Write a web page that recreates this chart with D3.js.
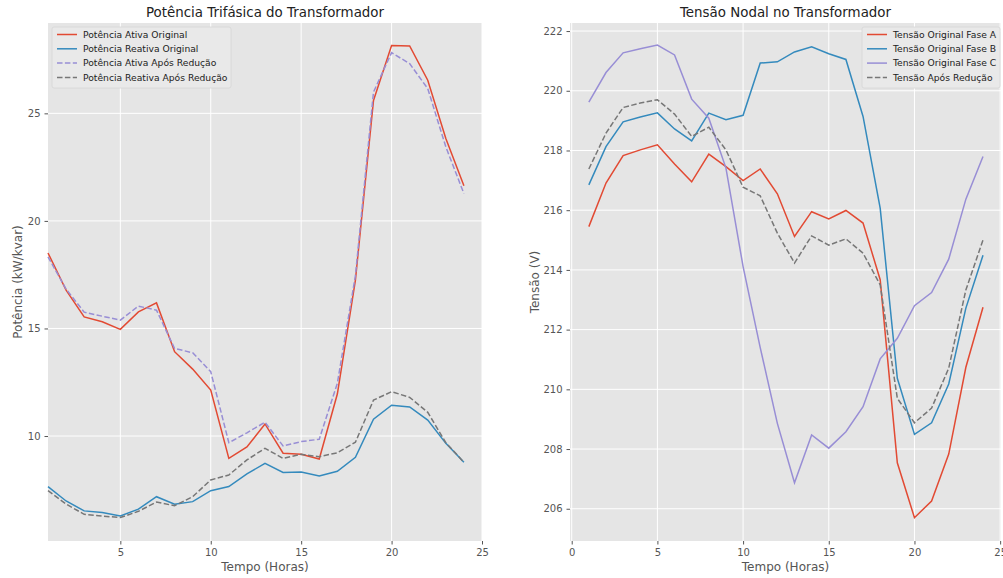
<!DOCTYPE html>
<html>
<head>
<meta charset="utf-8">
<script src="https://cdn.jsdelivr.net/npm/d3@7"></script>
<style>
  body { margin: 0; background: #fff; }
  text { font-family: "DejaVu Sans", sans-serif; }
</style>
</head>
<body>
<div id="chart"></div>
<script>
// horas do dia
var horas = d3.range(1, 25);

// potencia (kW / kvar)
var ativaOriginal = [18.51, 16.78, 15.54, 15.31, 14.96, 15.77, 16.19, 13.92, 13.11, 12.14, 8.96, 9.49,
  10.56, 9.20, 9.15, 8.93, 11.95, 17.25, 25.60, 28.15, 28.13, 26.54, 23.83, 21.63];
var reativaOriginal = [7.65, 6.98, 6.52, 6.44, 6.28, 6.60, 7.18, 6.83, 6.95, 7.46, 7.65, 8.24,
  8.73, 8.31, 8.33, 8.14, 8.36, 9.01, 10.78, 11.43, 11.35, 10.74, 9.66, 8.78];
var ativaReducao = [18.33, 16.83, 15.76, 15.57, 15.39, 16.04, 15.85, 14.07, 13.87, 12.99, 9.69, 10.15,
  10.64, 9.54, 9.74, 9.85, 12.45, 17.45, 25.99, 27.82, 27.31, 26.15, 23.44, 21.27];
var reativaReducao = [7.46, 6.84, 6.36, 6.28, 6.21, 6.50, 6.93, 6.76, 7.18, 7.96, 8.19, 8.89,
  9.43, 8.96, 9.15, 9.04, 9.22, 9.71, 11.67, 12.06, 11.80, 11.10, 9.69, 8.78];

// tensao (V)
var faseA = [215.45, 216.91, 217.83, 218.02, 218.19, 217.55, 216.95, 217.88, 217.46, 216.99, 217.38, 216.55,
  215.12, 215.95, 215.71, 215.99, 215.57, 213.67, 207.54, 205.70, 206.26, 207.83, 210.74, 212.75];
var faseB = [216.85, 218.13, 218.96, 219.12, 219.26, 218.72, 218.32, 219.25, 219.03, 219.18, 220.93, 220.97,
  221.30, 221.47, 221.24, 221.05, 219.14, 216.07, 210.37, 208.49, 208.88, 210.18, 212.72, 214.49];
var faseC = [219.62, 220.61, 221.27, 221.41, 221.53, 221.20, 219.72, 219.08, 217.41, 214.11, 211.40, 208.86,
  206.87, 208.47, 208.03, 208.58, 209.42, 211.02, 211.71, 212.80, 213.24, 214.36, 216.37, 217.80];
var tensaoReducao = [217.38, 218.58, 219.44, 219.59, 219.70, 219.22, 218.47, 218.78, 218.02, 216.77, 216.48, 215.23,
  214.23, 215.14, 214.83, 215.04, 214.56, 213.50, 209.70, 208.88, 209.37, 210.71, 213.33, 215.00];

var ticksX1 = [5, 10, 15, 20, 25];
var ticksY1 = [10, 15, 20, 25];
var ticksX2 = [0, 5, 10, 15, 20, 25];
var ticksY2 = [206, 208, 210, 212, 214, 216, 218, 220, 222];

var red = "#E24A33", blue = "#348ABD", purple = "#988ED5", gray = "#777777";

var w = 1003, h = 578;
var svg = d3.select("#chart").append("svg").attr("width", w).attr("height", h);

function painel(cfg) {
  var x = d3.scaleLinear().domain(cfg.xdom).range([cfg.left, cfg.right]);
  var y = d3.scaleLinear().domain(cfg.ydom).range([541, 23]);
  var g = svg.append("g");

  g.append("rect")
    .attr("x", cfg.left).attr("y", 23)
    .attr("width", cfg.right - cfg.left).attr("height", 518)
    .attr("fill", "#E5E5E5");

  // grade
  g.selectAll(".gx").data(cfg.ticksX).enter().append("line")
    .attr("x1", d => x(d)).attr("x2", d => x(d))
    .attr("y1", 23).attr("y2", 541)
    .attr("stroke", "#fff").attr("stroke-width", 1);
  g.selectAll(".gy").data(cfg.ticksY).enter().append("line")
    .attr("x1", cfg.left).attr("x2", cfg.right)
    .attr("y1", d => y(d)).attr("y2", d => y(d))
    .attr("stroke", "#fff").attr("stroke-width", 1);

  var ax = g.append("g").attr("transform", "translate(0,541)")
    .call(d3.axisBottom(x).tickValues(cfg.ticksX).tickSize(3.5).tickPadding(4).tickFormat(d3.format("d")));
  var ay = g.append("g").attr("transform", "translate(" + cfg.left + ",0)")
    .call(d3.axisLeft(y).tickValues(cfg.ticksY).tickSize(3.5).tickPadding(4).tickFormat(d3.format("d")));
  [ax, ay].forEach(function (a) {
    a.select(".domain").remove();
    a.selectAll("line").attr("stroke", "#555");
    a.selectAll("text").attr("fill", "#555").attr("font-size", "10px")
      .style("font-family", "DejaVu Sans, sans-serif");
  });

  var line = d3.line().x((d, i) => x(horas[i])).y(d => y(d));
  cfg.series.forEach(function (s) {
    g.append("path").datum(s.values)
      .attr("d", line)
      .attr("fill", "none")
      .attr("stroke", s.color)
      .attr("stroke-width", 1.5)
      .attr("stroke-dasharray", s.dash ? "5.5,2.4" : null);
  });

  g.append("text").attr("x", (cfg.left + cfg.right) / 2).attr("y", 17)
    .attr("text-anchor", "middle").attr("font-size", "13.4px").attr("fill", "#222")
    .text(cfg.title);
  g.append("text").attr("x", (cfg.left + cfg.right) / 2).attr("y", 571)
    .attr("text-anchor", "middle").attr("font-size", "12px").attr("fill", "#555")
    .text("Tempo (Horas)");
  g.append("text")
    .attr("transform", "translate(" + cfg.ylabX + ",282) rotate(-90)")
    .attr("text-anchor", "middle").attr("font-size", "12px").attr("fill", "#555")
    .text(cfg.ylabel);

  // legenda
  var lg = g.append("g").attr("transform", "translate(" + cfg.legX + ",27)");
  lg.append("rect").attr("width", cfg.legW).attr("height", 61).attr("rx", 2)
    .attr("fill", "#E9E9E9").attr("stroke", "#D5D5D5").attr("stroke-width", 0.8);
  cfg.series.forEach(function (s, i) {
    var yy = 7.5 + i * 14.3;
    lg.append("line").attr("x1", 5).attr("x2", 25).attr("y1", yy).attr("y2", yy)
      .attr("stroke", s.color).attr("stroke-width", 1.5)
      .attr("stroke-dasharray", s.dash ? "5.5,2.4" : null);
    lg.append("text").attr("x", 31).attr("y", yy + 3.3)
      .attr("font-size", "9.2px").attr("fill", "#222").text(s.name);
  });
}

painel({
  xdom: [1, 25], ydom: [5.12, 29.2], left: 48, right: 482,
  ticksX: ticksX1, ticksY: ticksY1,
  title: "Potência Trifásica do Transformador",
  ylabel: "Potência (kW/kvar)", ylabX: 22,
  legX: 52, legW: 179,
  series: [
    { name: "Potência Ativa Original", values: ativaOriginal, color: red },
    { name: "Potência Reativa Original", values: reativaOriginal, color: blue },
    { name: "Potência Ativa Após Redução", values: ativaReducao, color: purple, dash: true },
    { name: "Potência Reativa Após Redução", values: reativaReducao, color: gray, dash: true }
  ]
});

painel({
  xdom: [-0.1, 25.05], ydom: [204.92, 222.27], left: 570, right: 1001,
  ticksX: ticksX2, ticksY: ticksY2,
  title: "Tensão Nodal no Transformador",
  ylabel: "Tensão (V)", ylabX: 539,
  legX: 862, legW: 138,
  series: [
    { name: "Tensão Original Fase A", values: faseA, color: red },
    { name: "Tensão Original Fase B", values: faseB, color: blue },
    { name: "Tensão Original Fase C", values: faseC, color: purple },
    { name: "Tensão Após Redução", values: tensaoReducao, color: gray, dash: true }
  ]
});
</script>
</body>
</html>
